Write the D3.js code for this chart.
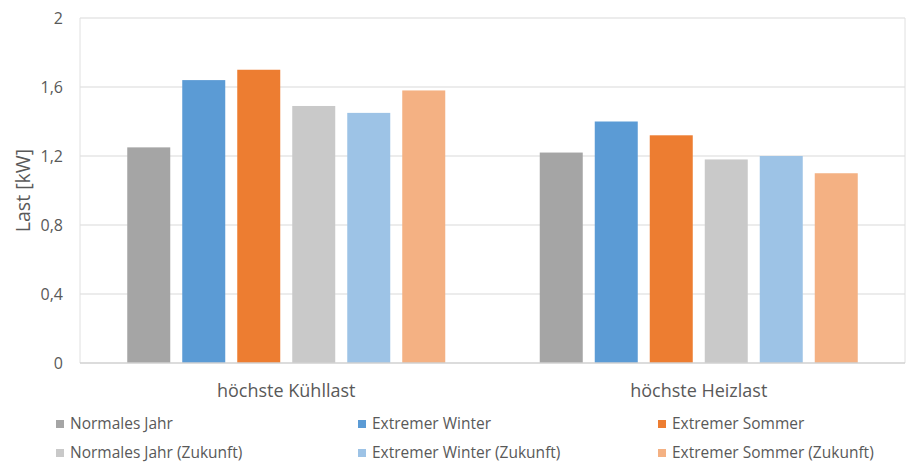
<!DOCTYPE html>
<html>
<head>
<meta charset="utf-8">
<script src="https://cdn.jsdelivr.net/npm/d3@7"></script>
<style>
  html, body { margin: 0; padding: 0; background: #fff; }
  svg text { font-family: "Open Sans", "Liberation Sans", sans-serif; fill: #595959; }
</style>
</head>
<body>
<svg id="chart" width="913" height="465"></svg>
<script>
// Lastfälle (Kategorien) und Szenarien (Serien)
const categories = ["höchste Kühllast", "höchste Heizlast"];
const series = ["Normales Jahr", "Extremer Winter", "Extremer Sommer",
                "Normales Jahr (Zukunft)", "Extremer Winter (Zukunft)", "Extremer Sommer (Zukunft)"];
const colors = ["#A5A5A5", "#5B9BD5", "#ED7D31", "#C9C9C9", "#9DC3E6", "#F4B183"];
// Werte in kW je Szenario: [Kühllast, Heizlast]
const normalesJahr        = [1.25, 1.22];
const extremerWinter      = [1.64, 1.40];
const extremerSommer      = [1.70, 1.32];
const normalesJahrZ       = [1.49, 1.18];
const extremerWinterZ     = [1.45, 1.20];
const extremerSommerZ     = [1.58, 1.10];
const yTicks = [0, 0.4, 0.8, 1.2, 1.6, 2];
const yTickLabels = ["0", "0,4", "0,8", "1,2", "1,6", "2"];

const values = [normalesJahr, extremerWinter, extremerSommer, normalesJahrZ, extremerWinterZ, extremerSommerZ];

const svg = d3.select("#chart");
const margin = { left: 80, right: 8, top: 18, bottom: 102 };
const W = 913, H = 465;
const x0 = d3.scaleBand().domain(categories).range([margin.left, W - margin.right]).paddingInner(0).paddingOuter(0);
const inset = (x0.bandwidth() - 318) / 2;
const x1 = d3.scaleBand().domain(series).range([inset, x0.bandwidth() - inset]).paddingInner(12 / 55).paddingOuter(0);
const y = d3.scaleLinear().domain([0, 2]).range([H - margin.bottom, margin.top]);

// Gitterlinien und Rahmen des Diagrammbereichs
svg.append("g").selectAll("line").data(yTicks.filter(t => t > 0)).join("line")
  .attr("x1", margin.left).attr("x2", W - margin.right)
  .attr("y1", d => y(d)).attr("y2", d => y(d))
  .attr("stroke", "#D9D9D9").attr("stroke-width", 1);
svg.append("g").selectAll("line").data([margin.left, W - margin.right]).join("line")
  .attr("x1", d => d).attr("x2", d => d)
  .attr("y1", y(2)).attr("y2", y(0))
  .attr("stroke", "#E0E0E0");

// Balken
const groups = svg.append("g").selectAll("g").data(categories).join("g")
  .attr("transform", d => `translate(${x0(d)},0)`);
groups.selectAll("rect").data((c, ci) => series.map((s, si) => ({ s, si, v: values[si][ci] }))).join("rect")
  .attr("x", d => x1(d.s)).attr("width", x1.bandwidth())
  .attr("y", d => y(d.v)).attr("height", d => y(0) - y(d.v))
  .attr("fill", d => colors[d.si]);

// x-Achse
svg.append("line")
  .attr("x1", margin.left).attr("x2", W - margin.right)
  .attr("y1", y(0)).attr("y2", y(0))
  .attr("stroke", "#D0D0D0").attr("stroke-width", 1.5);

const xAxis = svg.append("g").attr("transform", `translate(0,${y(0)})`)
  .call(d3.axisBottom(x0).tickSize(0));
xAxis.select(".domain").remove();
xAxis.selectAll("text").attr("y", 34).attr("dy", null).attr("font-size", 18);

// y-Achse
const yAxis = svg.append("g").attr("transform", `translate(${margin.left - 17},0)`)
  .call(d3.axisLeft(y).tickValues(yTicks).tickFormat((d, i) => yTickLabels[i]).tickSize(0).tickPadding(0));
yAxis.select(".domain").remove();
yAxis.selectAll("text").attr("font-size", 16);

svg.append("text")
  .attr("transform", `translate(30,${(y(0) + y(2)) / 2}) rotate(-90)`)
  .attr("text-anchor", "middle").attr("font-size", 19.5)
  .text("Last [kW]");

// Legende
const legendX = [56, 358, 658];
const legendY = [429, 458];
const legend = svg.append("g").selectAll("g").data(series).join("g")
  .attr("transform", (d, i) => `translate(${legendX[i % 3]},${legendY[Math.floor(i / 3)]})`);
legend.append("rect").attr("x", 0).attr("y", -9).attr("width", 8).attr("height", 8)
  .attr("fill", (d, i) => colors[i]);
legend.append("text").attr("x", 14).attr("y", 0)
  .attr("font-size", 15.5).text(d => d);
</script>
</body>
</html>
